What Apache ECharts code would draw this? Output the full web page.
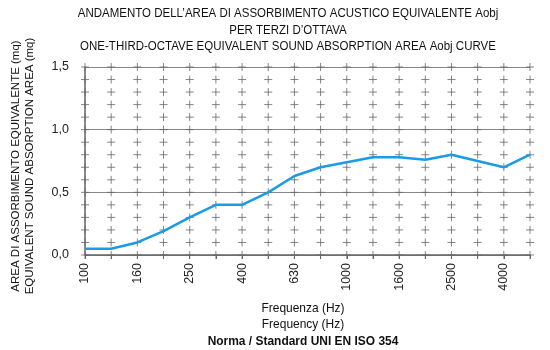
<!DOCTYPE html>
<html>
<head>
<meta charset="utf-8">
<script src="https://cdn.jsdelivr.net/npm/echarts@6/dist/echarts.min.js"></script>
<style>html,body{margin:0;padding:0;background:#fff;}#c{width:550px;height:350px;}</style>
</head>
<body>
<div id="c"></div>
<script>
var frequencies = ['100','125','160','200','250','315','400','500','630','800','1000','1250','1600','2000','2500','3150','4000','5000'];
var absorptionArea = [0.05,0.05,0.10,0.19,0.30,0.40,0.40,0.50,0.63,0.70,0.74,0.78,0.78,0.76,0.80,0.75,0.70,0.80];
var yMinorTicks = [0,0.1,0.2,0.3,0.4,0.5,0.6,0.7,0.8,0.9,1.0,1.1,1.2,1.3,1.4,1.5];
var titleLines = ['ANDAMENTO DELL\u2019AREA DI ASSORBIMENTO ACUSTICO EQUIVALENTE Aobj','PER TERZI D\u2019OTTAVA','ONE-THIRD-OCTAVE EQUIVALENT SOUND ABSORPTION AREA Aobj CURVE'];
var yNameLines = ['AREA DI ASSORBIMENTO EQUIVALENTE (mq)','EQUIVALENT SOUND ABSORPTION AREA (mq)'];
var xNameLines = ['Frequenza (Hz)','Frequency (Hz)'];
var normText = 'Norma / Standard UNI EN ISO 354';

var FONT = '"Liberation Sans", Arial, Helvetica, sans-serif';
var crossPts = [];
frequencies.forEach(function(f){ yMinorTicks.forEach(function(v){ crossPts.push([f, v]); }); });

var chart = echarts.init(document.getElementById('c'), null, {renderer:'canvas'});
var graphics = [];
titleLines.forEach(function(t,i){
  graphics.push({type:'text', x:288, y:13.5+i*16.7, scaleX:0.92, style:{text:t, font:'12.5px '+FONT, fill:'#111', textAlign:'center', textVerticalAlign:'middle'}});
});
yNameLines.forEach(function(t,i){
  graphics.push({type:'text', x:15.5+i*14, y:166, rotation:Math.PI/2, style:{text:t, font:'11.5px '+FONT, fill:'#111', textAlign:'center', textVerticalAlign:'middle'}});
});
xNameLines.forEach(function(t,i){
  graphics.push({type:'text', x:303, y:308+i*16, scaleX:0.92, style:{text:t, font:'13px '+FONT, fill:'#111', textAlign:'center', textVerticalAlign:'middle'}});
});
graphics.push({type:'text', x:303, y:341, scaleX:0.92, style:{text:normText, font:'bold 13px '+FONT, fill:'#111', textAlign:'center', textVerticalAlign:'middle'}});

chart.setOption({
  animation:false,
  backgroundColor:'#fff',
  textStyle:{fontFamily:FONT},
  grid:{left:85, right:20, top:67, bottom:95, containLabel:false},
  xAxis:{
    type:'category', data:frequencies, boundaryGap:false,
    axisLine:{show:true, lineStyle:{color:'#666', width:1.5}},
    axisTick:{show:true, interval:0, length:4, lineStyle:{color:'#666'}},
    axisLabel:{rotate:90, interval:1, fontSize:12.5, color:'#222', margin:8, fontFamily:FONT},
    splitLine:{show:false}
  },
  yAxis:{
    type:'value', min:0, max:1.5, interval:0.5,
    axisLine:{show:true, lineStyle:{color:'#666', width:1.5}},
    axisTick:{show:false},
    axisLabel:{fontSize:12.5, color:'#222', margin:16, fontFamily:FONT, formatter:function(v){return v.toFixed(1).replace('.',',');}},
    splitLine:{show:true, lineStyle:{color:'#888', width:1}}
  },
  graphic:graphics,
  series:[
    {type:'scatter', data:crossPts, silent:true, z:1,
     symbol:'path://M0,5L10,5M5,0L5,10', symbolSize:8,
     itemStyle:{color:'none', borderColor:'#666', borderWidth:1}},
    {type:'line', data:absorptionArea, showSymbol:false, symbol:'none', z:5,
     lineStyle:{color:'#1a9be6', width:2.5}}
  ]
});
</script>
</body>
</html>
